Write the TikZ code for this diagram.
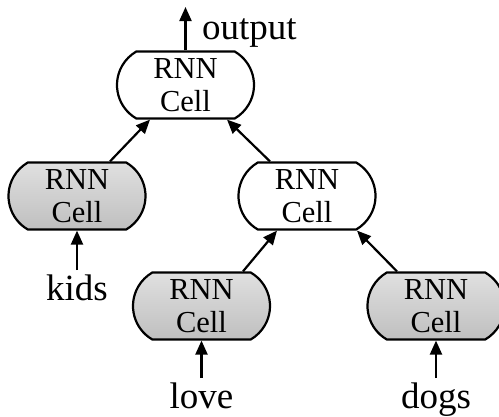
\documentclass[tikz,border=0pt]{standalone}
\usepackage{fontspec}
\setmainfont{Liberation Serif}
\usetikzlibrary{shapes.misc,arrows.meta,calc}
\definecolor{celltop}{HTML}{E0E0E0}
\definecolor{cellbot}{HTML}{BFBFBF}
\tikzset{
  cell/.style={rounded rectangle, rounded rectangle arc length=120, draw=black, line width=2.2pt,
    minimum width=137pt, minimum height=67pt, inner sep=0pt, align=center,
    font=\fontsize{30.5}{33}\selectfont},
  leaf/.style={cell, top color=celltop, bottom color=cellbot},
  inner/.style={cell, fill=white},
  word/.style={font=\fontsize{37}{40}\selectfont, inner sep=0pt, anchor=base},
  arr/.style={line width=2.2pt, -{Triangle[length=14pt,width=12pt]}}
}
\begin{document}
\begin{tikzpicture}[x=1pt,y=-1pt]
  \useasboundingbox (0,0) rectangle (499,416);
  % tree of cells
  \node[inner] (root) at (185.5,85) {RNN\\Cell};
  \node[leaf]  (lkids) at (77,196) {RNN\\Cell};
  \node[inner] (mid) at (307,196) {RNN\\Cell};
  \node[leaf]  (llove) at (201.5,306) {RNN\\Cell};
  \node[leaf]  (ldogs) at (436,306) {RNN\\Cell};
  % input words and output
  \node[word] (kids) at (77,300) {kids};
  \node[word] (love) at (201.5,408) {love};
  \node[word] (dogs) at (436,408) {dogs};
  \coordinate (out) at (185.5,7);
  \node[word, anchor=base west] (outlbl) at (202,39) {output};
  % connectors
  \draw[arr] (root.north) -- (out);
  \draw[arr] ($(lkids.north)+(33,0)$) -- ($(root.south)+(-35.5,0)$);
  \draw[arr] ($(mid.north)+(-37,0)$) -- ($(root.south)+(41.5,0)$);
  \draw[arr] ($(llove.north)+(41.5,0)$) -- ($(mid.south)+(-30,0)$);
  \draw[arr] ($(ldogs.north)+(-39,0)$) -- ($(mid.south)+(50,0)$);
  \draw[arr, shorten <=4pt] (kids.north) -- (lkids.south);
  \draw[arr, shorten <=4pt] (love.north) -- (llove.south);
  \draw[arr, shorten <=4pt] (dogs.north) -- (ldogs.south);
\end{tikzpicture}
\end{document}
